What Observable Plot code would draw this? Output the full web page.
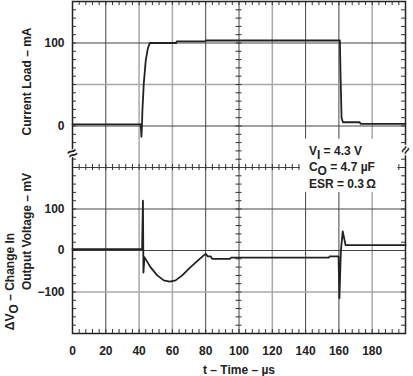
<!DOCTYPE html>
<html><head><meta charset="utf-8">
<style>html,body{margin:0;padding:0;background:#fff;} svg{display:block}</style>
<script src="https://cdn.jsdelivr.net/npm/d3@7"></script>
<script src="https://cdn.jsdelivr.net/npm/@observablehq/plot@0.6"></script>
</head><body><div id="chart"></div>
<script>
// Upper trace: current load (mA) vs time (µs)
const loadTime    = [0, 41.0, 41.4, 41.7, 42.0, 42.8, 44.0, 45.2, 46.4, 62.3, 62.6, 79.8, 80.1, 160.6, 161.0, 161.6, 162.4, 172.5, 173.0, 200];
const loadCurrent = [2, 2, -13, 0, 19, 51, 79, 93, 100, 100, 102, 102, 103, 103, 60, 10, 4.5, 4.5, 2.6, 2.6];
// Lower trace: change in output voltage (mV) vs time (µs)
const dvTime    = [0, 41.8, 42.3, 42.6, 43.2, 46.8, 50.9, 54.8, 58.4, 61.9, 65.9, 70.9, 75.9, 79.9, 81.3, 82.9, 83.9, 94.5, 95.3, 154.0, 154.5, 159.8, 160.3, 161.2, 162.3, 164.0, 200];
const dvVoltage = [3, 3, 120, -53, -16, -40, -60, -72, -75, -72, -60, -40, -22, -8, -14, -14, -20, -20, -17, -17, -14, -14, -115, 0, 46, 13, 13];
// Tick labels
const xTicks = [0, 20, 40, 60, 80, 100, 120, 140, 160, 180];
const loadTicks = [0, 100];          // mA
const dvTicks = [-100, 0, 100];      // mV
// Annotation
const noteLines = ["V_I = 4.3 V", "C_O = 4.7 µF", "ESR = 0.3\u2009Ω"];
const noteX = 142;
const noteY = [240, 200, 160];

// Two panels share one vertical axis: lower panel in mV (-200..200),
// upper panel maps mA (-50..150) onto 200..600.
const upper = mA => 300 + 2 * mA;
const load = loadTime.map((t, i) => ({t, v: upper(loadCurrent[i])}));
const dv = dvTime.map((t, i) => ({t, v: dvVoltage[i]}));

const W = 413, H = 376, mL = 72, mR = 8, mT = 1, mB = 43;
const uPerPx = 800 / (H - mT - mB);
const xPerPx = 200 / (W - mL - mR);
const minorX = d3.range(0, 201, 4);
const minorY = d3.range(-200, 601, 20);
const faintX = new Set([40, 60, 120, 180]);
const faintY = new Set([-100, 400]);
const ink = "#222";
const font = "Liberation Sans, Arial, Helvetica, sans-serif";
const T = {fontSize: 12, fontWeight: "bold", textAnchor: "middle", lineAnchor: "middle"};

const svg = Plot.plot({
  width: W, height: H,
  marginLeft: mL, marginRight: mR, marginTop: mT, marginBottom: mB,
  x: {domain: [0, 200], axis: null},
  y: {domain: [-200, 600], axis: null},
  style: {fontFamily: font, fontSize: "12px", fontWeight: "bold", color: ink, background: "white"},
  marks: [
    Plot.ruleX(d3.range(20, 200, 20), {stroke: d => faintX.has(d) ? "#a8a8a8" : "#444", strokeWidth: d => faintX.has(d) ? 1.5 : 1}),
    Plot.ruleY(d3.range(-100, 600, 100), {stroke: d => faintY.has(d) ? "#a8a8a8" : "#444", strokeWidth: d => faintY.has(d) ? 1.5 : 1}),
    // minor graticule ticks
    Plot.ruleX(minorX, {x: d => d, y1: -200, y2: -200 + 4 * uPerPx, stroke: "#333"}),
    Plot.ruleX(minorX, {x: d => d, y1: 600 - 4 * uPerPx, y2: 600, stroke: "#333"}),
    Plot.ruleX(minorX, {x: d => d, y1: 200 - 3 * uPerPx, y2: 200 + 3 * uPerPx, stroke: "#333"}),
    Plot.ruleY(minorY, {y: d => d, x1: 0, x2: 4 * xPerPx, stroke: "#333"}),
    Plot.ruleY(minorY, {y: d => d, x1: 200 - 4 * xPerPx, x2: 200, stroke: "#333"}),
    Plot.ruleY(minorY, {y: d => d, x1: 100 - 3 * xPerPx, x2: 100 + 3 * xPerPx, stroke: "#333"}),
    Plot.frame({stroke: ink, strokeWidth: 1.5}),
    // traces
    Plot.line(load, {x: "t", y: "v", stroke: ink, strokeWidth: 1.8, curve: "linear"}),
    Plot.line(dv, {x: "t", y: "v", stroke: ink, strokeWidth: 1.8, curve: "linear"}),
    // axis break marks
    Plot.text(["≈"], {x: 0, y: 234, rotate: -25, fontSize: 17, fill: ink, stroke: "white", strokeWidth: 2, paintOrder: "stroke"}),
    Plot.text(["≈"], {x: 200, y: 242, dx: 0, rotate: -60, fontSize: 14, fill: ink, stroke: "white", strokeWidth: 2, paintOrder: "stroke"}),
    // tick labels
    Plot.text(xTicks, {...T, x: d => d, frameAnchor: "bottom", dy: 18, text: d => String(d)}),
    Plot.text(loadTicks, {...T, y: d => upper(d), frameAnchor: "left", dx: -8, textAnchor: "end", text: d => String(d)}),
    Plot.text(dvTicks, {...T, y: d => d, frameAnchor: "left", dx: -8, textAnchor: "end", text: d => d < 0 ? "\u2212" + Math.abs(d) : String(d)}),
    // axis titles
    Plot.text(["t \u2013 Time \u2013 µs"], {...T, frameAnchor: "bottom", dy: 37}),
    Plot.text(["Current Load \u2013 mA"], {...T, frameAnchor: "top-left", dx: -45, dy: 80, rotate: -90}),
    Plot.text(["\u0394V_O \u2013 Change In"], {...T, frameAnchor: "top-left", dx: -62, dy: 280, rotate: -90}),
    Plot.text(["Output Voltage \u2013 mV"], {...T, frameAnchor: "top-left", dx: -45, dy: 230, rotate: -90}),
    // annotation
    Plot.text(noteLines, {...T, x: noteX, y: (d, i) => noteY[i], textAnchor: "start"})
  ]
});

document.getElementById("chart").appendChild(svg);

// subscripts: "X_Y" -> X with subscript Y
const NS = "http://www.w3.org/2000/svg";
svg.querySelectorAll("text").forEach(t => {
  if (t.children.length) return;
  const m = (t.textContent || "").match(/^(.*?)_(\w)(.*)$/);
  if (!m) return;
  t.textContent = "";
  const a = document.createElementNS(NS, "tspan"); a.textContent = m[1]; t.appendChild(a);
  const b = document.createElementNS(NS, "tspan"); b.textContent = m[2]; b.setAttribute("dy", "4"); t.appendChild(b);
  const c = document.createElementNS(NS, "tspan"); c.textContent = m[3]; c.setAttribute("dy", "-4"); t.appendChild(c);
});

// white panel behind the annotation block
const noteEl = Array.from(svg.querySelectorAll("text")).find(t => (t.textContent || "").startsWith("ESR"));
const g = noteEl ? noteEl.parentNode : null;
if (g) {
  const bb = g.getBBox();
  const r = document.createElementNS(NS, "rect");
  r.setAttribute("x", bb.x - 9); r.setAttribute("y", bb.y - 5);
  r.setAttribute("width", bb.width + 30); r.setAttribute("height", bb.height + 6);
  r.setAttribute("fill", "white"); r.setAttribute("stroke", "none");
  g.insertBefore(r, g.firstChild);
}
</script></body></html>
